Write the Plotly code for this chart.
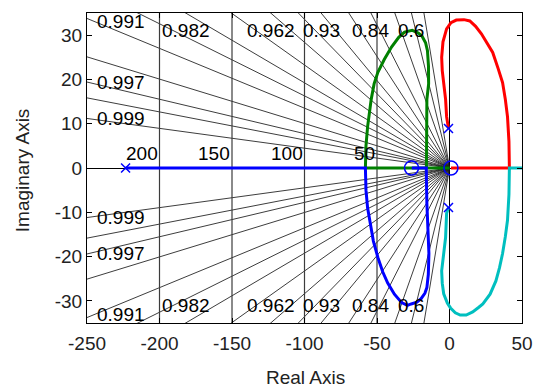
import numpy as np
import plotly.graph_objects as go

# ---- data ----
zeta_labeled = [0.999, 0.997, 0.991, 0.982, 0.962, 0.93, 0.84, 0.6]
zeta_labels = ["0.999", "0.997", "0.991", "0.982", "0.962", "0.93", "0.84", "0.6"]
zeta_extra = [0.998, 0.995, 0.987, 0.974, 0.948, 0.893, 0.733, 0.45]
wn_values = [50, 100, 150, 200]
wn_labels = ["50", "100", "150", "200"]

x_tickvals = [-250, -200, -150, -100, -50, 0, 50]
x_ticktext = ["-250", "-200", "-150", "-100", "-50", "0", "50"]
y_tickvals = [-30, -20, -10, 0, 10, 20, 30]
y_ticktext = ["-30", "-20", "-10", "0", "10", "20", "30"]

blue_x = [-223.4, -58, -57.6, -56.5, -55, -52.5, -49.4, -46, -42.6, -38, -33, -29, -26.4, -22.5,
          -19.6, -17, -15.6, -14.6, -14.2, -15, -15.6, -15.9, -16, -26]
blue_y = [0, 0, -5, -9, -11.8, -16.5, -20.2, -23.5, -26, -28.5, -30.4, -31, -30.7, -30.3,
          -29.5, -28.3, -27, -24, -19.3, -14, -8, -3, 0, 0]

green_x = [0, -58, -57.6, -56.5, -54, -52, -49.4, -45, -40, -35, -31, -25.7, -21.5, -19, -16.5,
           -15.2, -14.5, -14.4, -15.6, -15.9, -16, -15.9]
green_y = [0, 0, 5, 9.3, 15.5, 19, 21.6, 24.5, 27.3, 29.5, 30.7, 31.1, 30.5, 29.8, 28.3,
           26.5, 23, 19, 15.5, 8, 3, 0]

red_x = [-0.7, -2, -2.7, -3.8, -5, -5.4, -4.5, -2, 1, 4.7, 10, 14, 18, 22, 26, 29.8, 33.5,
         36.6, 38.5, 40, 41, 41.3, 41.3, 1]
red_y = [8.9, 11.6, 15.5, 19, 22, 25, 28.5, 31.4, 32.8, 33.4, 33.5, 33.2, 32, 30.3, 28.3,
         26.1, 22.5, 19.3, 15.5, 11.6, 6, 2.5, 0, 0]

cyan_x = [-0.7, -2, -2.7, -4.2, -5.4, -5, -4, -1.5, 0.7, 4, 7.4, 11.5, 16, 20, 23, 28, 32,
          34.5, 36.6, 38.5, 40, 41, 41.3, 41.3, 60]
cyan_y = [-8.9, -10.2, -15.7, -19.5, -23.2, -26, -28.4, -30.5, -31.6, -32.7, -33.2, -33.2,
          -32.5, -31.5, -30.7, -28.5, -25.5, -22.5, -19.3, -15.5, -11.8, -6, -0.5, 0, 0]

pole_x = [-223.4, -0.7, -0.7]
pole_y = [0, 8.9, -8.9]
zero_x = [-26.2, 1.0]
zero_y = [0, 0]

x_range = [-250, 50]
y_range = [-35, 35]
font = "Liberation Sans, Arial, sans-serif"

fig = go.Figure()

# damping lines
R = 500
for z in zeta_labeled + zeta_extra:
    th = np.arccos(z)
    for s in (1, -1):
        fig.add_trace(go.Scatter(x=[0, -R * np.cos(th)], y=[0, s * R * np.sin(th)],
                                 mode="lines", line=dict(color="#1a1a1a", width=0.85),
                                 hoverinfo="skip", showlegend=False))
# natural frequency lines
for w in wn_values:
    fig.add_trace(go.Scatter(x=[-w, -w], y=y_range, mode="lines",
                             line=dict(color="#3c3c3c", width=1.2),
                             hoverinfo="skip", showlegend=False))

# branches
for bx, by, col in [(green_x, green_y, "#008000"), (blue_x, blue_y, "#0000FF"),
                    (red_x, red_y, "#FF0000"), (cyan_x, cyan_y, "#00BFBF")]:
    fig.add_trace(go.Scatter(x=bx, y=by, mode="lines", line=dict(color=col, width=3),
                             showlegend=False))

fig.add_trace(go.Scatter(x=pole_x, y=pole_y, mode="markers",
                         marker=dict(symbol="x-thin", size=9, line=dict(color="#0000FF", width=1.5)),
                         showlegend=False))
fig.add_trace(go.Scatter(x=zero_x, y=zero_y, mode="markers",
                         marker=dict(symbol="circle-open", size=14, color="#0000FF",
                                     line=dict(color="#0000FF", width=1.5)),
                         showlegend=False))

ann = []
for z, lab in zip(zeta_labeled, zeta_labels):
    t = np.tan(np.arccos(z))
    xt = -y_range[1] / t
    if xt >= x_range[0]:
        for s in (1, -1):
            ann.append(dict(x=xt, y=s * 31.1, text=lab, showarrow=False, xanchor="center",
                            yanchor="middle", font=dict(size=19, color="black", family=font)))
    else:
        yl = min(-x_range[0] * t, 33.0)
        for s in (1, -1):
            ann.append(dict(x=-244.8, y=s * yl, text=lab, showarrow=False, xanchor="left",
                            yanchor="middle", font=dict(size=19, color="black", family=font)))
for w, lab in zip(wn_values, wn_labels):
    ann.append(dict(x=-w, y=3.2, text=lab, showarrow=False, xanchor="right", yanchor="middle",
                    font=dict(size=19, color="black", family=font)))

ann.append(dict(x=-0.149, y=0.4935, xref="paper", yref="paper", text="Imaginary Axis",
                textangle=-90, showarrow=False, xanchor="center", yanchor="middle",
                font=dict(size=19, color="#222", family=font)))
ann.append(dict(x=0.503, y=-0.177, xref="paper", yref="paper", text="Real Axis",
                showarrow=False, xanchor="center", yanchor="middle",
                font=dict(size=19, color="#222", family=font)))

fig.update_layout(
    width=545, height=387,
    margin=dict(l=87, r=15, t=13, b=64),
    paper_bgcolor="white", plot_bgcolor="white",
    annotations=ann,
    xaxis=dict(range=x_range, tickvals=x_tickvals, ticktext=x_ticktext,
               ticks="inside", ticklen=5, tickcolor="black", mirror="ticks",
               showline=True, linecolor="black", linewidth=1, showgrid=False,
               zeroline=True, zerolinecolor="black", zerolinewidth=1, ticklabelstandoff=3,
               tickfont=dict(size=19, color="#222", family=font)),
    yaxis=dict(range=y_range, tickvals=y_tickvals, ticktext=y_ticktext,
               ticks="inside", ticklen=5, tickcolor="black", mirror="ticks",
               showline=True, linecolor="black", linewidth=1, showgrid=False,
               zeroline=True, zerolinecolor="black", zerolinewidth=1,
               tickfont=dict(size=19, color="#222", family=font)),
)

fig.write_html("out.html")
